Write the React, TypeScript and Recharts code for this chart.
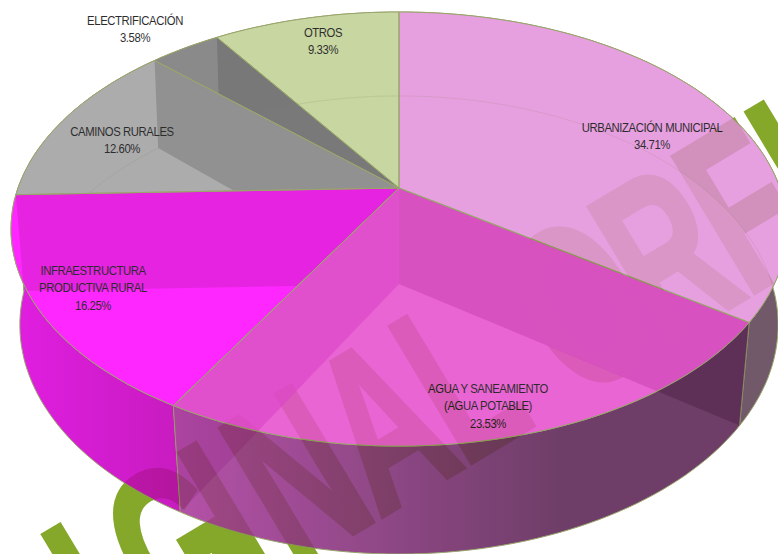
import React from "react";
import { PieChart, Pie } from "recharts";

const NAMES = ["OTROS", "ELECTRIFICACIÓN", "CAMINOS RURALES", "INFRAESTRUCTURA PRODUCTIVA RURAL", "AGUA Y SANEAMIENTO (AGUA POTABLE)", "URBANIZACIÓN MUNICIPAL"];
const VALUES = [9.33, 3.58, 12.6, 16.25, 23.53, 34.71];
const LABEL_LINES = [["OTROS", "9.33%"], ["ELECTRIFICACIÓN", "3.58%"], ["CAMINOS RURALES", "12.60%"], ["INFRAESTRUCTURA", "PRODUCTIVA RURAL", "16.25%"], ["AGUA Y SANEAMIENTO", "(AGUA POTABLE)", "23.53%"], ["URBANIZACIÓN MUNICIPAL", "34.71%"]];
const data = NAMES.map((name, i) => ({ name, value: VALUES[i] }));

const WATERMARK = "ORIGINAL ORFIS";
const WATERMARK_X = [-446, -350, -248.5, -185, -90, -42, 58, 156, 250, 286, 388, 486, 572, 610];

const W = 778, H = 554;
const LABEL_AT = [[323, 37], [135, 25], [122, 136], [93, 275], [488, 393], [652, 132]];
const TOP_COLORS = ["#c8d6a2", "#8c8c8c", "#adadad", "#ff28ff", "#ea66d4", "#e8a0e0"];
const SIDE_STOPS = [["#888", "#888"], ["#888", "#888"], ["#888", "#888"], ["#e020e0", "#c81cc0"], ["#b552a8", "#704069"], ["#725a6c", "#725a6c"]];
const SIDE_X = [[0, 778], [0, 778], [0, 778], [20, 180], [180, 560], [700, 778]];
const WALL_TINT = ["none", "rgba(0,0,0,.17)", "rgba(0,0,0,.19)", "rgba(150,0,130,.27)", "rgba(200,0,180,.28)", "rgba(150,0,120,.25)"];
const WALL_SIDE_TINT = ["none", "none", "none", "none", "rgba(130,0,120,.25)", "rgba(50,0,40,.4)"];
const HIDE_INK = "rgb(227,73,212)";
const HIDE_INK_LEFT = "rgb(238,70,227)";
const HIDE_INK_DARK = "rgb(92,34,96)";
const EDGE = "#8c9a58";
const GROUP_OPACITY = 0.885;

function ink(hex: string) {
  const h = hex.length === 4 ? "#" + hex[1] + hex[1] + hex[2] + hex[2] + hex[3] + hex[3] : hex;
  const n = parseInt(h.slice(1), 16);
  const f = (c: number) => Math.max(0, Math.min(255, Math.round((c - 255 * (1 - GROUP_OPACITY)) / GROUP_OPACITY)));
  return `rgb(${f((n >> 16) & 255)},${f((n >> 8) & 255)},${f(n & 255)})`;
}

const TOP_PLANE = { k: 0.189, sy: 209.3 / 381, rx: 1, dy: 0 };
const LOW_PLANE = { k: 0.179, sy: 221.7 / 381, rx: 373 / 381, dy: 96 };
type Plane = typeof TOP_PLANE;
const RAD = Math.PI / 180;

function project(p: any, plane: Plane, deg: number, r = 1) {
  const u = Math.cos(deg * RAD) * r, v = Math.sin(deg * RAD) * r;
  const w = 1 + plane.k * v;
  const R = p.outerRadius;
  return [p.cx + (R * plane.rx * u) / w, p.cy + plane.dy - (R * plane.sy * v) / w];
}
function arc(p: any, plane: Plane, a0: number, a1: number) {
  const n = Math.max(2, Math.ceil(Math.abs(a1 - a0) / 1.5));
  const pts: number[][] = [];
  for (let i = 0; i <= n; i++) pts.push(project(p, plane, a0 + ((a1 - a0) * i) / n));
  return pts;
}
const toPath = (pts: number[][], close = true) => "M" + pts.map((q) => `${q[0].toFixed(1)} ${q[1].toFixed(1)}`).join("L") + (close ? "Z" : "");
const idx = (p: any) => NAMES.indexOf(p.name ?? p.payload?.name);
const apex = (p: any, plane: Plane) => project(p, plane, 0, 0);

function Watermark({ fill, opacity = 1 }: { fill: string; opacity?: number }) {
  return (
    <text
      transform="translate(329.3 548) rotate(-31) scale(.62 1)"
      x={WATERMARK_X.map((v) => (v / 0.62).toFixed(1)).join(" ")}
      fontFamily="'Liberation Sans'"
      fontWeight={700}
      fontSize={230}
      fill={fill}
      stroke={fill}
      strokeWidth={5}
      opacity={opacity}
    >
      {WATERMARK}
    </text>
  );
}

function SideShape(p: any) {
  const i = idx(p);
  const pts = [...arc(p, TOP_PLANE, p.startAngle, p.endAngle), ...arc(p, LOW_PLANE, p.endAngle, p.startAngle)];
  return (
    <g>
      <defs>
        <linearGradient id={`side${i}`} gradientUnits="userSpaceOnUse" x1={SIDE_X[i][0]} x2={SIDE_X[i][1]} y1={0} y2={0}>
          <stop offset="0" stopColor={ink(SIDE_STOPS[i][0])} />
          <stop offset="1" stopColor={ink(SIDE_STOPS[i][1])} />
        </linearGradient>
      </defs>
      <path d={toPath(pts)} fill={`url(#side${i})`} stroke={EDGE} strokeWidth={1} />
    </g>
  );
}
function wallPts(p: any, deg: number) {
  return [apex(p, TOP_PLANE), project(p, TOP_PLANE, deg), project(p, LOW_PLANE, deg), apex(p, LOW_PLANE)];
}
function WallSideShape(p: any) {
  const i = idx(p);
  return <path d={toPath(wallPts(p, p.startAngle))} fill={WALL_SIDE_TINT[i]} />;
}
function TopShape(p: any) {
  const i = idx(p);
  const d = toPath([apex(p, TOP_PLANE), ...arc(p, TOP_PLANE, p.startAngle, p.endAngle)]);
  return (
    <g>
      <defs>
        <clipPath id={`clip${i}`}><path d={d} /></clipPath>
      </defs>
      <path d={d} fill={ink(TOP_COLORS[i])} />
    </g>
  );
}
function WallTopShape(p: any) {
  const i = idx(p);
  const clip = i === 5 ? 4 : i;
  const sideBand = toPath(arc(p, LOW_PLANE, 0, 360)) + toPath(arc(p, TOP_PLANE, 0, 360));
  const wall = toPath(wallPts(p, p.startAngle));
  return (
    <g>
      <defs>
        <clipPath id={`wall${i}`}><path d={wall} /></clipPath>
      </defs>
      {i > 0 && <path d={wall} fill={WALL_TINT[i]} clipPath={`url(#clip${clip})`} />}
      <path d={toPath(arc(p, LOW_PLANE, p.startAngle, p.endAngle), false)} fill="none" stroke="rgba(110,120,70,.16)" strokeWidth={1} clipPath={`url(#clip${i})`} />
      {i === 4 && (
        <g clipPath="url(#clip4)"><g clipPath="url(#wall4)"><Watermark fill={HIDE_INK_LEFT} opacity={0.6} /></g></g>
      )}
      {i === 5 && (
        <g>
          <defs>
            <clipPath id="sideBand"><path d={sideBand} clipRule="evenodd" /></clipPath>
          </defs>
          <g clipPath="url(#sideBand)"><Watermark fill="#5a4a10" opacity={0.06} /></g>
          <g clipPath="url(#clip4)"><g clipPath="url(#wall5)"><Watermark fill={HIDE_INK} opacity={0.92} /></g></g>
          <g clipPath="url(#sideBand)"><g clipPath="url(#wall5)"><Watermark fill={HIDE_INK_DARK} /></g></g>
        </g>
      )}
    </g>
  );
}
function EdgeShape(p: any) {
  const d = toPath([apex(p, TOP_PLANE), ...arc(p, TOP_PLANE, p.startAngle, p.endAngle)]);
  return <path d={d} fill="none" stroke={EDGE} strokeWidth={1} />;
}
function SliceLabel(p: any) {
  const i = p.index;
  const lines = LABEL_LINES[i];
  return (
    <text transform={`translate(${LABEL_AT[i][0]} ${LABEL_AT[i][1]}) scale(.87 1)`} textAnchor="middle" fontFamily="'Liberation Sans'" fontSize={13} letterSpacing={-0.45} fill="#111">
      {lines.map((t, j) => (
        <tspan key={j} x={0} dy={j === 0 ? 0 : 17.5}>{t}</tspan>
      ))}
    </text>
  );
}

const common = { data, dataKey: "value", nameKey: "name", cx: 399, cy: 188, outerRadius: 381, startAngle: 90, endAngle: 450, isAnimationActive: false, labelLine: false };

export default function App() {
  return (
    <div style={{ position: "fixed", left: 0, top: 0, width: W, height: H, overflow: "hidden", background: "#fff" }}>
      <svg width={W} height={H} style={{ position: "absolute", left: 0, top: 0 }}>
        <Watermark fill="#85a82b" />
      </svg>
      <div style={{ position: "absolute", left: 0, top: 0, opacity: GROUP_OPACITY }}>
        <PieChart width={W} height={H} margin={{ top: 0, right: 0, bottom: 0, left: 0 }}>
          <Pie {...common} shape={SideShape} />
          <Pie {...common} shape={WallSideShape} />
          <Pie {...common} shape={TopShape} />
          <Pie {...common} shape={WallTopShape} />
          <Pie {...common} shape={EdgeShape} label={SliceLabel} />
        </PieChart>
      </div>
    </div>
  );
}
